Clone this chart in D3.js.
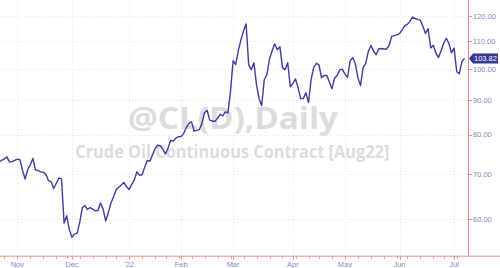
<!DOCTYPE html>
<html>
<head>
<meta charset="utf-8">
<script src="https://cdn.jsdelivr.net/npm/d3@7"></script>
<style>
  html, body { margin: 0; padding: 0; background: #ffffff; }
  svg { display: block; }
</style>
</head>
<body>
<svg id="chart" width="500" height="268"></svg>
<script>
// ---------------- DATA ----------------
const startDate = "2021-10-21";
const holidays = ["2021-11-25", "2021-12-24", "2022-01-17", "2022-04-15", "2022-05-30", "2022-06-20", "2022-07-04"];
const closes = [
  72.9, 73.3, 73.7, 74.2, 72.9, 73.0, 73.3, 73.6, 73.5, 70.9,
  68.8, 71.0, 72.2, 73.8, 71.0, 70.8, 70.5, 70.4, 69.9, 68.4,
  68.2, 66.6, 67.8, 69.0, 68.9, 59.2, 60.7, 57.9, 56.4, 57.0,
  57.2, 59.3, 62.4, 62.8, 62.0, 62.4, 62.1, 61.7, 61.8, 63.4,
  62.1, 59.6, 61.3, 63.4, 64.7, 66.3, 66.9, 67.4, 68.0, 67.0,
  66.4, 67.5, 68.6, 70.5, 69.7, 69.8, 71.6, 73.3, 73.1, 74.7,
  76.3, 77.2, 77.1, 76.1, 74.9, 76.5, 78.5, 78.3, 79.1, 79.5,
  79.5, 80.4, 82.0, 83.2, 83.6, 81.0, 81.2, 81.4, 83.1, 86.2,
  87.0, 84.1, 83.8, 83.8, 84.6, 85.8, 85.3, 86.5, 86.2, 92.7,
  103.0, 101.6, 106.5, 110.6, 114.0, 116.8, 101.6, 99.9, 102.3, 94.9,
  90.5, 88.4, 96.6, 98.2, 103.6, 106.5, 109.1, 106.9, 108.0, 100.6,
  99.9, 102.3, 94.3, 95.3, 96.8, 93.9, 90.5, 90.5, 92.3, 89.3,
  96.6, 100.6, 102.1, 101.6, 97.2, 97.9, 98.0, 95.9, 93.6, 97.0,
  97.9, 99.8, 100.1, 98.4, 97.3, 102.9, 104.1, 102.0, 97.2, 94.6,
  100.6, 102.0, 106.3, 108.5, 106.5, 105.1, 107.2, 107.4, 107.2, 107.2,
  108.5, 111.9, 112.2, 112.5, 113.0, 114.4, 116.0, 116.6, 117.8, 119.5,
  119.0, 118.5, 118.3, 115.8, 113.0, 114.9, 107.6, 108.6, 105.7, 104.1,
  106.6, 109.3, 111.2, 109.3, 105.8, 107.5, 99.3, 98.5, 102.7, 103.82
];
const monthLabels = ["Nov", "Dec", "'22", "Feb", "Mar", "Apr", "May", "Jun", "Jul"];
const priceTicks = [60, 70, 80, 90, 100, 110, 120];
const priceDomain = [52.96, 126.7];
const lastPrice = 103.82;
const titleText = "@CL(D),Daily";
const subtitleText = "Crude Oil Continuous Contract [Aug22]";

// ---------------- BUILD TRADING CALENDAR ----------------
const parse = d3.utcParse("%Y-%m-%d");
const fmt = d3.utcFormat("%Y-%m-%d");
const holidaySet = new Set(holidays);
const dates = [];
let d = parse(startDate);
while (dates.length < closes.length) {
  const wd = d.getUTCDay();
  if (wd !== 0 && wd !== 6 && !holidaySet.has(fmt(d))) dates.push(new Date(d));
  d = d3.utcDay.offset(d, 1);
}
const data = closes.map((v, i) => ({ i, date: dates[i], value: v }));

// ---------------- LAYOUT ----------------
const W = 500, H = 268;
const plot = { left: 0, top: 0, right: 468, bottom: 255.7 };
const svg = d3.select("#chart");

const x = d3.scaleLinear()
  .domain([0, closes.length - 1])
  .range([plot.left - 0.9, plot.right - 3.5]);
const y = d3.scaleLog()
  .domain(priceDomain)
  .range([plot.bottom, plot.top]);

// month & week ticks
const monthIdx = [];
const weekIdx = [];
data.forEach((p, i) => {
  if (i === 0) return;
  const prev = data[i - 1].date;
  if (p.date.getUTCMonth() !== prev.getUTCMonth()) monthIdx.push(i);
  if (p.date.getUTCDay() < prev.getUTCDay()) weekIdx.push(i);
});

// ---------------- GRID ----------------
const gridColor = "#e6e6e6";
svg.append("g").selectAll("line.h")
  .data(priceTicks).join("line")
  .attr("x1", plot.left).attr("x2", plot.right)
  .attr("y1", v => Math.round(y(v)) + 0.5).attr("y2", v => Math.round(y(v)) + 0.5)
  .attr("stroke", gridColor).attr("stroke-dasharray", "1,2");
svg.append("g").selectAll("line.v")
  .data(monthIdx).join("line")
  .attr("x1", i => Math.round(x(i)) + 0.5).attr("x2", i => Math.round(x(i)) + 0.5)
  .attr("y1", plot.top).attr("y2", plot.bottom)
  .attr("stroke", gridColor).attr("stroke-dasharray", "1,2");

// ---------------- WATERMARK ----------------
svg.append("text")
  .attr("x", 233).attr("y", 128.5)
  .attr("text-anchor", "middle")
  .attr("font-family", "'Open Sans', sans-serif").attr("font-weight", 700)
  .attr("font-size", 30)
  .attr("textLength", 210).attr("lengthAdjust", "spacingAndGlyphs")
  .attr("fill", "#dcdcdc")
  .text(titleText);
svg.append("text")
  .attr("x", 232.3).attr("y", 158.3)
  .attr("text-anchor", "middle")
  .attr("font-family", "'Open Sans', sans-serif").attr("font-weight", 700)
  .attr("font-size", 18)
  .attr("textLength", 314).attr("lengthAdjust", "spacingAndGlyphs")
  .attr("fill", "#dcdcdc")
  .text(subtitleText);

// ---------------- LINE ----------------
svg.append("clipPath").attr("id", "clip")
  .append("rect").attr("x", plot.left).attr("y", plot.top)
  .attr("width", plot.right - plot.left).attr("height", plot.bottom - plot.top);

svg.append("path")
  .datum(data)
  .attr("clip-path", "url(#clip)")
  .attr("fill", "none")
  .attr("stroke", "#3c3ca2")
  .attr("stroke-width", 1.4)
  .attr("stroke-linejoin", "round")
  .attr("d", d3.line().x(p => x(p.i)).y(p => y(p.value)));

// ---------------- AXES ----------------
const axisColor = "#f28b8b";
const labelColor = "#8489bb";

// bottom axis
const xAxis = svg.append("g").attr("transform", `translate(0,${plot.bottom})`);
xAxis.append("line")
  .attr("x1", 0).attr("x2", W).attr("y1", 0.5).attr("y2", 0.5)
  .attr("stroke", axisColor);
xAxis.selectAll("line.wk").data(weekIdx).join("line")
  .attr("x1", i => Math.round(x(i)) + 0.5).attr("x2", i => Math.round(x(i)) + 0.5)
  .attr("y1", 0.5).attr("y2", 3)
  .attr("stroke", axisColor);
xAxis.selectAll("line.mo").data(monthIdx).join("line")
  .attr("x1", i => Math.round(x(i)) + 0.5).attr("x2", i => Math.round(x(i)) + 0.5)
  .attr("y1", 0.5).attr("y2", 4)
  .attr("stroke", axisColor);
xAxis.selectAll("text").data(monthIdx).join("text")
  .attr("x", i => x(i)).attr("y", 11)
  .attr("text-anchor", "middle")
  .attr("font-family", "'Liberation Sans', Arial, sans-serif")
  .attr("font-size", 7.5)
  .attr("fill", labelColor)
  .text((i, k) => monthLabels[k]);

// right axis
const yAxis = svg.append("g");
yAxis.append("line")
  .attr("x1", plot.right + 0.5).attr("x2", plot.right + 0.5)
  .attr("y1", 0).attr("y2", plot.bottom)
  .attr("stroke", axisColor);
yAxis.selectAll("line.t").data(priceTicks).join("line")
  .attr("x1", plot.right + 0.5).attr("x2", plot.right + 4)
  .attr("y1", v => Math.round(y(v)) + 0.5).attr("y2", v => Math.round(y(v)) + 0.5)
  .attr("stroke", axisColor);
yAxis.selectAll("text").data(priceTicks).join("text")
  .attr("x", plot.right + 5).attr("y", v => y(v))
  .attr("dy", "0.35em")
  .attr("font-family", "'Liberation Sans', Arial, sans-serif")
  .attr("font-size", 7.5)
  .attr("fill", labelColor)
  .text(v => v.toFixed(2));

// last price marker
const ly = y(lastPrice);
const tag = svg.append("g").attr("transform", `translate(${plot.right + 1},${ly})`);
tag.append("path")
  .attr("d", "M0,0 L4,-5 L29,-5 L29,5 L4,5 Z")
  .attr("fill", "#353594");
tag.append("text")
  .attr("x", 5).attr("y", 0).attr("dy", "0.35em")
  .attr("font-family", "'Liberation Sans', Arial, sans-serif")
  .attr("font-size", 7.5)
  .attr("fill", "#ffffff")
  .text(lastPrice.toFixed(2));
</script>
</body>
</html>
